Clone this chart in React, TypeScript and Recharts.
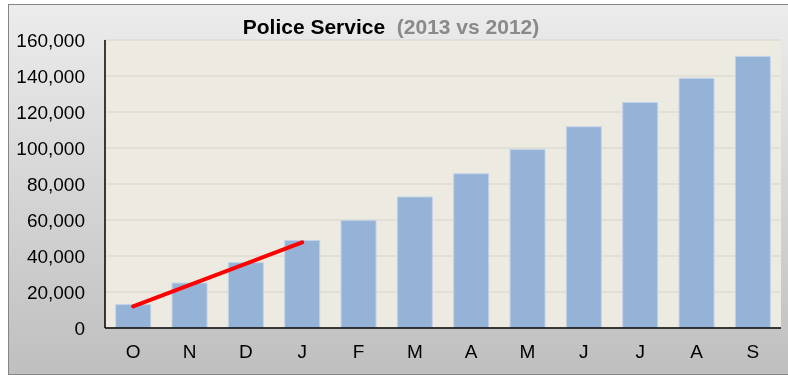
import { Bar, Line, XAxis, YAxis, CartesianGrid, ComposedChart } from 'recharts';

// months Oct 2012 -> Sep 2013
const MONTHS = ['O', 'N', 'D', 'J', 'F', 'M', 'A', 'M', 'J', 'J', 'A', 'S'];
// 2013 cumulative
const VALUES_2013 = [13000, 25000, 36300, 48600, 59800, 72800, 85700, 99100, 111800, 125300, 138700, 150900];
// 2012 comparison (red line, only drawn O..J)
const VALUES_2012: (number | null)[] = [12000, null, null, 47600, null, null, null, null, null, null, null, null];
const Y_TICKS = [0, 20000, 40000, 60000, 80000, 100000, 120000, 140000, 160000];

const data = MONTHS.map((m, i) => ({
  month: m,
  current: VALUES_2013[i],
  previous: VALUES_2012[i],
}));

const FONT = '"Liberation Sans", Arial, sans-serif';

export default function App() {
  return (
    <div style={{ position: 'fixed', left: 0, top: 0, width: 788, height: 375, overflow: 'hidden' }}>
      {/* gray gradient panel with border */}
      <div
        style={{
          position: 'absolute',
          left: 8,
          top: 4,
          width: 781,
          height: 369,
          border: '1px solid #858585',
          background: 'linear-gradient(to bottom, #ececec 0%, #bfbfbf 100%)',
        }}
      />
      <div
        style={{
          position: 'absolute',
          left: -3,
          top: 0,
          width: 788,
          textAlign: 'center',
          fontFamily: FONT,
          fontWeight: 'bold',
          fontSize: 21,
          lineHeight: '21px',
          paddingTop: 16,
          whiteSpace: 'pre',
        }}
      >
        <span style={{ color: '#000' }}>Police Service</span>
        <span style={{ color: '#8a8a8a' }}>{'  (2013 vs 2012)'}</span>
      </div>
      <div style={{ position: 'absolute', left: 0, top: 0 }}>
        <ComposedChart
          width={788}
          height={375}
          data={data}
          margin={{ top: 40, right: 7, bottom: 0, left: 0 }}
          barCategoryGap="19%"
        >
          <CartesianGrid vertical={false} stroke="#d7d5ca" fill="#edebe1" />
          <XAxis
            dataKey="month"
            tickLine={false}
            tickSize={0}
            tickMargin={17}
            height={47}
            axisLine={{ stroke: '#000', strokeWidth: 1.5 }}
            tick={{ fill: '#000', fontSize: 19, fontFamily: FONT }}
          />
          <YAxis
            domain={[0, 160000]}
            ticks={Y_TICKS}
            width={105}
            tickLine={false}
            tickSize={0}
            tickMargin={20}
            axisLine={{ stroke: '#000', strokeWidth: 1.5 }}
            tick={{ fill: '#000', fontSize: 19, fontFamily: FONT }}
            tickFormatter={(v: number) => v.toLocaleString('en-US')}
          />
          <Bar dataKey="current" fill="#95b3d7" stroke="#c3d3e7" strokeWidth={1} isAnimationActive={false} />
          <Line
            dataKey="previous"
            stroke="#ff0000"
            strokeWidth={4}
            strokeLinecap="round"
            dot={false}
            activeDot={false}
            connectNulls
            type="linear"
            isAnimationActive={false}
          />
        </ComposedChart>
      </div>
    </div>
  );
}
